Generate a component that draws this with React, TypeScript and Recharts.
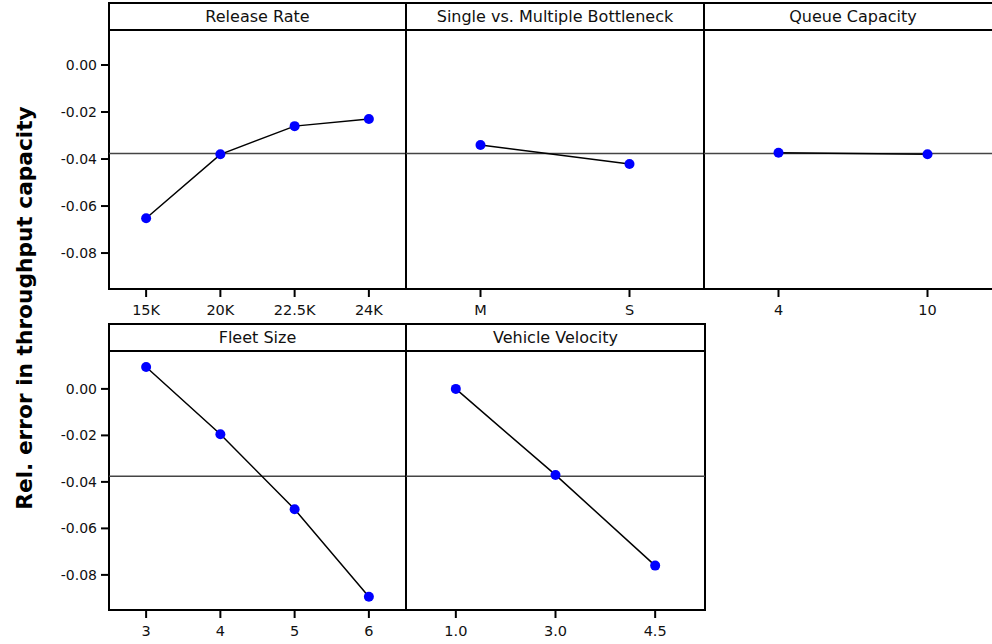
import { LineChart, Line, XAxis, YAxis, ReferenceLine } from 'recharts';

// grand mean of the response (horizontal reference line)
const grandMean = -0.0376;

const releaseLevels = ['15K', '20K', '22.5K', '24K'];
const releaseMeans = [-0.0652, -0.038, -0.026, -0.023];

const bottleneckLevels = ['M', 'S'];
const bottleneckMeans = [-0.034, -0.0421];

const queueLevels = ['4', '10'];
const queueMeans = [-0.0373, -0.038];

const fleetLevels = ['3', '4', '5', '6'];
const fleetMeans = [0.0094, -0.0195, -0.0518, -0.0894];

const velocityLevels = ['1.0', '3.0', '4.5'];
const velocityMeans = [0.0, -0.037, -0.076];

const yTicks = [0, -0.02, -0.04, -0.06, -0.08];

const FONT = '"DejaVu Sans", Verdana, sans-serif';

interface Row {
  headerTop: number;
  plotTop: number;
  plotBottom: number;
  domain: [number, number];
}

const topRow: Row = { headerTop: 3, plotTop: 30, plotBottom: 289, domain: [-0.0953, 0.0149] };
const bottomRow: Row = { headerTop: 324, plotTop: 351, plotBottom: 610, domain: [-0.0951, 0.0163] };

interface PanelProps {
  title: string;
  levels: string[];
  means: number[];
  x0: number;
  x1: number;
  row: Row;
  showY?: boolean;
}

function Panel({ title, levels, means, x0, x1, row, showY = false }: PanelProps) {
  const data = levels.map((level, i) => ({ i, level, mean: means[i] }));
  const yW = showY ? 70 : 0;
  const plotH = row.plotBottom - row.plotTop;
  const w = x1 - x0;
  return (
    <>
      <div
        style={{
          position: 'absolute',
          left: x0 - 1,
          top: row.headerTop - 1,
          width: w + 2,
          height: row.plotBottom - row.headerTop + 2,
          border: '2px solid #000',
          boxSizing: 'border-box',
        }}
      />
      <div style={{ position: 'absolute', left: x0, top: row.plotTop - 1, width: w, height: 2, background: '#000' }} />
      <div
        style={{
          position: 'absolute',
          left: x0,
          top: row.headerTop,
          width: w,
          height: row.plotTop - row.headerTop,
          display: 'flex',
          alignItems: 'center',
          justifyContent: 'center',
          fontSize: 16,
          color: '#111',
        }}
      >
        {title}
      </div>
      <div style={{ position: 'absolute', left: x0 - yW, top: row.plotTop }}>
        <LineChart
          width={w + yW}
          height={plotH + 40}
          data={data}
          margin={{ top: 0, right: 0, bottom: 0, left: 0 }}
        >
          <XAxis
            type="number"
            dataKey="i"
            domain={[-0.5, levels.length - 0.5]}
            ticks={levels.map((_, i) => i)}
            tickFormatter={(v: number) => levels[v]}
            interval={0}
            allowDataOverflow
            axisLine={false}
            tickLine={{ stroke: '#000', strokeWidth: 2 }}
            tickSize={8}
            tickMargin={8}
            height={40}
            tick={{ fill: '#111', fontSize: 14.5, fontFamily: FONT }}
          />
          <YAxis
            type="number"
            domain={row.domain}
            ticks={yTicks}
            allowDataOverflow
            hide={!showY}
            width={yW}
            axisLine={false}
            tickLine={{ stroke: '#000', strokeWidth: 2 }}
            tickSize={8}
            tickMargin={4}
            tickFormatter={(v: number) => v.toFixed(2)}
            tick={{ fill: '#111', fontSize: 14, fontFamily: FONT }}
          />
          <ReferenceLine y={grandMean} stroke="#444" strokeWidth={1.5} />
          <Line
            dataKey="mean"
            stroke="#000"
            strokeWidth={1.5}
            dot={{ r: 5, fill: '#0000ff', stroke: 'none' }}
            activeDot={false}
            isAnimationActive={false}
          />
        </LineChart>
      </div>
    </>
  );
}

export default function App() {
  return (
    <div
      style={{
        position: 'absolute',
        left: 0,
        top: 0,
        width: 992,
        height: 644,
        overflow: 'hidden',
        background: '#fff',
        fontFamily: FONT,
      }}
    >
      <svg width={50} height={644} style={{ position: 'absolute', left: 0, top: 0 }}>
        <text
          x={24}
          y={308}
          transform="rotate(-90 24 308)"
          textAnchor="middle"
          dominantBaseline="central"
          fontWeight="bold"
          fontSize={21.7}
          fontFamily={FONT}
          fill="#000"
        >
          Rel. error in throughput capacity
        </text>
      </svg>
      <Panel title="Release Rate" levels={releaseLevels} means={releaseMeans} x0={109} x1={406} row={topRow} showY />
      <Panel title="Single vs. Multiple Bottleneck" levels={bottleneckLevels} means={bottleneckMeans} x0={406} x1={704} row={topRow} />
      <Panel title="Queue Capacity" levels={queueLevels} means={queueMeans} x0={704} x1={1002} row={topRow} />
      <Panel title="Fleet Size" levels={fleetLevels} means={fleetMeans} x0={109} x1={406} row={bottomRow} showY />
      <Panel title="Vehicle Velocity" levels={velocityLevels} means={velocityMeans} x0={406} x1={705} row={bottomRow} />
    </div>
  );
}
